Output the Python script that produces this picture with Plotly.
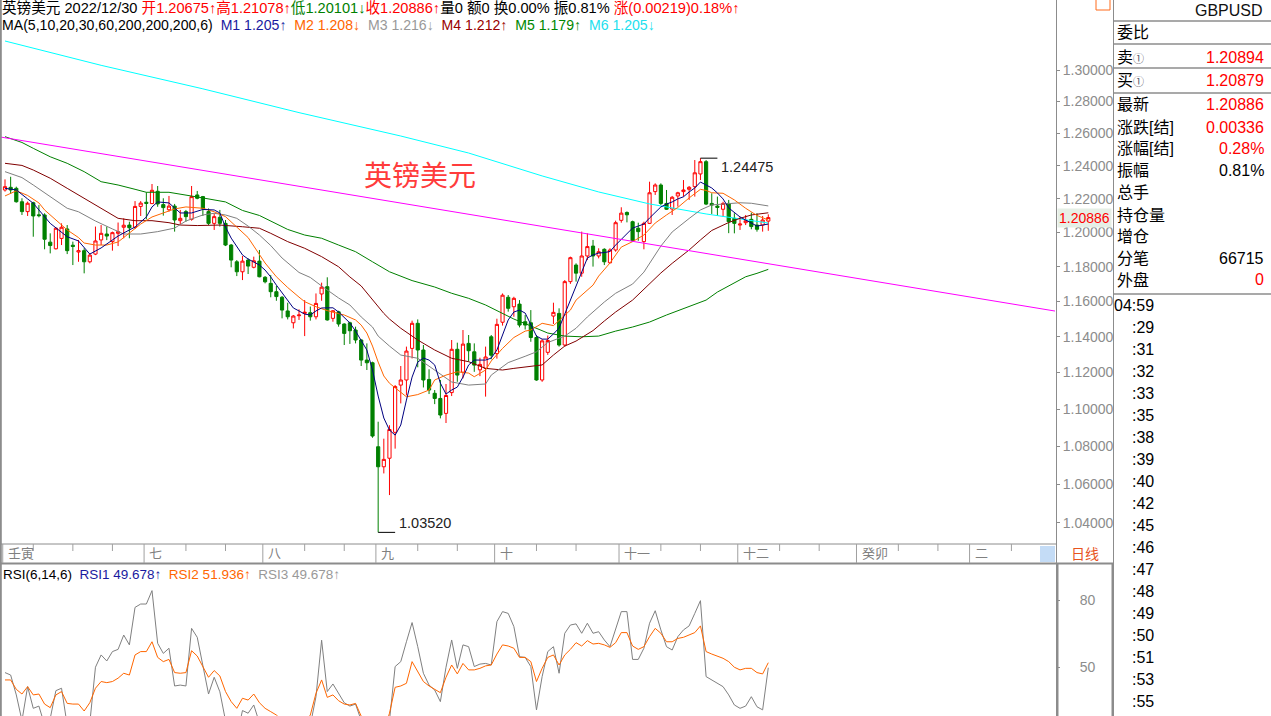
import math
import plotly.graph_objects as go

W, H = 1271, 716

# ---------------- data ----------------
candle_idx = list(range(136))
opens = [1.2254, 1.2270, 1.2264, 1.2183, 1.2124, 1.2177, 1.2105, 1.2104, 1.1943, 1.1904,
         1.1965, 1.2021, 1.1925, 1.1885, 1.1893, 1.1828, 1.1873, 1.1956, 1.1991, 1.1946,
         1.1995, 1.2031, 1.2044, 1.2031, 1.2155, 1.2180, 1.2172, 1.2246, 1.2166, 1.2135,
         1.2157, 1.2070, 1.2124, 1.2078, 1.2224, 1.2214, 1.2124, 1.2054, 1.2090, 1.2054,
         1.1926, 1.1828, 1.1770, 1.1838, 1.1796, 1.1832, 1.1738, 1.1703, 1.1655, 1.1623,
         1.1545, 1.1478, 1.1518, 1.1531, 1.1535, 1.1512, 1.1642, 1.1684, 1.1503, 1.1540,
         1.1471, 1.1478, 1.1437, 1.1381, 1.1269, 1.1254, 1.0798, 1.0692, 1.0737, 1.0875,
         1.1131, 1.1159, 1.1334, 1.1475, 1.1325, 1.1162, 1.1086, 1.1058, 1.0977, 1.1090,
         1.1329, 1.1202, 1.1362, 1.1315, 1.1215, 1.1223, 1.1399, 1.1305, 1.1481, 1.1623,
         1.1569, 1.1584, 1.1484, 1.1478, 1.1395, 1.1159, 1.1312, 1.1516, 1.1531, 1.1353,
         1.1713, 1.1809, 1.1762, 1.1862, 1.1920, 1.1862, 1.1901, 1.1822, 1.1897, 1.2072,
         1.2119, 1.2064, 1.2025, 1.1946, 1.2054, 1.2244, 1.2284, 1.2173, 1.2140, 1.2218,
         1.2244, 1.2258, 1.2274, 1.2351, 1.2426, 1.2173, 1.2157, 1.2138, 1.2173, 1.2084,
         1.2044, 1.2058, 1.2078, 1.2044, 1.2044, 1.20675]
highs = [1.2318, 1.2334, 1.2274, 1.2204, 1.2184, 1.2183, 1.2163, 1.2114, 1.1995, 1.2031,
         1.2054, 1.2044, 1.1946, 1.1956, 1.1907, 1.1877, 1.2035, 1.2044, 1.2035, 1.2005,
         1.2059, 1.2084, 1.2064, 1.2187, 1.2187, 1.2240, 1.2290, 1.2278, 1.2204, 1.2218,
         1.2170, 1.2134, 1.2134, 1.2278, 1.2248, 1.2218, 1.2143, 1.2114, 1.2134, 1.2074,
         1.1932, 1.1838, 1.1862, 1.1848, 1.1858, 1.1897, 1.1745, 1.1751, 1.1688, 1.1630,
         1.1592, 1.1522, 1.1554, 1.1607, 1.1570, 1.1645, 1.1707, 1.1738, 1.1550, 1.1546,
         1.1475, 1.1484, 1.1456, 1.1385, 1.1362, 1.1260, 1.0932, 1.0841, 1.0913, 1.1131,
         1.1236, 1.1344, 1.1490, 1.1497, 1.1353, 1.1218, 1.1104, 1.1159, 1.1137, 1.1381,
         1.1366, 1.1437, 1.1409, 1.1362, 1.1282, 1.1344, 1.1409, 1.1501, 1.1645, 1.1636,
         1.1626, 1.1607, 1.1522, 1.1550, 1.1409, 1.1385, 1.1406, 1.1592, 1.1560, 1.1722,
         1.1858, 1.1819, 1.2005, 1.1995, 1.1956, 1.1907, 1.1907, 1.1907, 1.2070, 1.2150,
         1.2125, 1.2070, 1.2058, 1.2064, 1.2304, 1.2294, 1.2294, 1.2254, 1.2218, 1.2243,
         1.2314, 1.2278, 1.2436, 1.24475, 1.2436, 1.2234, 1.2214, 1.2183, 1.2194, 1.2114,
         1.2094, 1.2104, 1.2118, 1.2114, 1.2098, 1.21078]
lows = [1.2244, 1.2230, 1.2178, 1.2104, 1.2098, 1.1975, 1.2090, 1.1901, 1.1877, 1.1900,
        1.1926, 1.1873, 1.1809, 1.1828, 1.1761, 1.1819, 1.1867, 1.1926, 1.1955, 1.1893,
        1.1920, 1.1966, 1.1966, 1.2021, 1.2098, 1.2078, 1.2170, 1.2153, 1.2100, 1.2124,
        1.2005, 1.2044, 1.2064, 1.2070, 1.2198, 1.2098, 1.2044, 1.2015, 1.2035, 1.1920,
        1.1796, 1.1745, 1.1722, 1.1757, 1.1790, 1.1738, 1.1703, 1.1623, 1.1603, 1.1503,
        1.1497, 1.1446, 1.1494, 1.1403, 1.1490, 1.1497, 1.1603, 1.1490, 1.1484, 1.1456,
        1.1353, 1.1359, 1.1362, 1.1236, 1.1214, 1.0846, 1.0352, 1.0657, 1.0544, 1.0788,
        1.1031, 1.1075, 1.1278, 1.1229, 1.1118, 1.1082, 1.1027, 1.0950, 1.0925, 1.1071,
        1.1149, 1.1168, 1.1260, 1.1204, 1.1180, 1.1068, 1.1273, 1.1277, 1.1462, 1.1541,
        1.1512, 1.1452, 1.1440, 1.1371, 1.1155, 1.1149, 1.1298, 1.1471, 1.1344, 1.1344,
        1.1700, 1.1713, 1.1741, 1.1838, 1.1800, 1.1848, 1.1809, 1.1819, 1.1887, 1.2058,
        1.2060, 1.1946, 1.1951, 1.1901, 1.2050, 1.2224, 1.2163, 1.2134, 1.2104, 1.2154,
        1.2214, 1.2194, 1.2214, 1.2314, 1.2163, 1.2110, 1.2098, 1.2094, 1.1996, 1.1995,
        1.2015, 1.2044, 1.2019, 1.2005, 1.2005, 1.20101]
closes = [1.2274, 1.2254, 1.2183, 1.2124, 1.2174, 1.2098, 1.2100, 1.1960, 1.1923, 1.2025,
          1.2031, 1.1893, 1.1918, 1.1893, 1.1828, 1.1867, 1.1950, 1.1995, 1.1979, 1.1999,
          1.2005, 1.2043, 1.2028, 1.2155, 1.2175, 1.2173, 1.2252, 1.2170, 1.2148, 1.2157,
          1.2074, 1.2084, 1.2094, 1.2214, 1.2204, 1.2143, 1.2054, 1.2094, 1.2054, 1.1926,
          1.1838, 1.1770, 1.1832, 1.1803, 1.1834, 1.1741, 1.1712, 1.1655, 1.1627, 1.1550,
          1.1512, 1.1516, 1.1522, 1.1538, 1.1512, 1.1588, 1.1681, 1.1494, 1.1546, 1.1471,
          1.1418, 1.1433, 1.1381, 1.1269, 1.1254, 1.0855, 1.0692, 1.0731, 1.0890, 1.1123,
          1.1159, 1.1319, 1.1475, 1.1325, 1.1159, 1.1104, 1.1058, 1.0968, 1.1074, 1.1329,
          1.1186, 1.1358, 1.1321, 1.1241, 1.1245, 1.1286, 1.1296, 1.1469, 1.1635, 1.1560,
          1.1617, 1.1465, 1.1465, 1.1395, 1.1159, 1.1376, 1.1378, 1.1537, 1.1353, 1.1713,
          1.1852, 1.1762, 1.1862, 1.1917, 1.1862, 1.1887, 1.1828, 1.1897, 1.2058, 1.2115,
          1.2105, 1.1951, 1.2005, 1.2054, 1.2237, 1.2284, 1.2173, 1.2138, 1.2210, 1.2237,
          1.2254, 1.2270, 1.2358, 1.2426, 1.2169, 1.2163, 1.2149, 1.2173, 1.2064, 1.2054,
          1.2050, 1.2070, 1.2035, 1.2019, 1.2074, 1.20886]

ma5_idx = [0, 2, 4, 5, 8, 11, 13, 15, 17, 20, 22, 23, 25, 26, 27, 29, 30, 31, 33, 35, 37, 38, 39, 40,
           42, 43, 44, 45, 46, 47, 48, 49, 50, 51, 52, 53, 54, 55, 56, 58, 59, 60, 61, 62, 63, 64,
           65, 66, 67, 68, 69, 70, 71, 72, 73, 74, 75, 76, 77, 78, 79, 80, 81, 82, 83, 84, 85, 86,
           87, 88, 89, 90, 91, 92, 93, 94, 95, 96, 97, 98, 99, 100, 101, 102, 103, 104, 105, 106,
           107, 108, 109, 110, 111, 112, 113, 114, 115, 116, 117, 118, 119, 120, 121, 122, 123,
           124, 125, 126, 127, 128, 129, 130, 131, 132, 133, 134, 135]
ma5 = [1.2264, 1.2254, 1.2200, 1.2174, 1.2054, 1.1975, 1.1950, 1.1873, 1.1909, 1.1979, 1.2015,
       1.2032, 1.2092, 1.2152, 1.2182, 1.2176, 1.2146, 1.2116, 1.2116, 1.2137, 1.2134, 1.2116,
       1.2032, 1.1967, 1.1868, 1.1844, 1.1827, 1.1809, 1.1780, 1.1740, 1.1693, 1.1647, 1.1602,
       1.1562, 1.1545, 1.1527, 1.1522, 1.1545, 1.1562, 1.1563, 1.1539, 1.1505, 1.1477, 1.1431,
       1.1381, 1.1325, 1.1214, 1.1071, 1.0952, 1.0887, 1.0860, 1.0914, 1.1049, 1.1175, 1.1258,
       1.1280, 1.1269, 1.1242, 1.1142, 1.1082, 1.1104, 1.1120, 1.1175, 1.1242, 1.1269, 1.1269,
       1.1269, 1.1280, 1.1325, 1.1409, 1.1494, 1.1539, 1.1550, 1.1533, 1.1471, 1.1403, 1.1386,
       1.1386, 1.1415, 1.1448, 1.1527, 1.1607, 1.1682, 1.1763, 1.1850, 1.1868, 1.1879, 1.1882,
       1.1888, 1.1926, 1.1961, 1.1997, 1.2026, 1.2038, 1.2050, 1.2086, 1.2122, 1.2152, 1.2169,
       1.2182, 1.2200, 1.2213, 1.2242, 1.2266, 1.2302, 1.2284, 1.2266, 1.2236, 1.2200, 1.2146,
       1.2116, 1.2092, 1.2074, 1.2056, 1.2038, 1.2044, 1.2050]

ma10_idx = [0, 2, 4, 6, 7, 9, 11, 13, 14, 16, 18, 20, 23, 24, 26, 28, 30, 32, 35, 37, 39, 41, 43,
            44, 46, 48, 50, 52, 53, 55, 57, 59, 60, 62, 63, 64, 65, 66, 67, 68, 69, 71, 73, 75, 76,
            78, 80, 82, 83, 85, 86, 88, 90, 92, 93, 95, 97, 99, 100, 101, 102, 103, 104, 105, 107,
            109, 111, 113, 115, 117, 119, 121, 123, 124, 125, 127, 129, 131, 133, 135]
ma10 = [1.2218, 1.2249, 1.2221, 1.2176, 1.2134, 1.2074, 1.2015, 1.1970, 1.1938, 1.1926, 1.1926,
        1.1944, 1.2021, 1.2050, 1.2092, 1.2117, 1.2140, 1.2152, 1.2144, 1.2123, 1.2094, 1.2032,
        1.1970, 1.1920, 1.1821, 1.1741, 1.1679, 1.1624, 1.1598, 1.1569, 1.1547, 1.1530, 1.1522,
        1.1494, 1.1465, 1.1420, 1.1347, 1.1258, 1.1181, 1.1141, 1.1115, 1.1067, 1.1079, 1.1104,
        1.1159, 1.1186, 1.1204, 1.1197, 1.1177, 1.1214, 1.1264, 1.1334, 1.1395, 1.1431, 1.1437,
        1.1475, 1.1462, 1.1522, 1.1550, 1.1607, 1.1636, 1.1665, 1.1693, 1.1745, 1.1821, 1.1914,
        1.1946, 1.1985, 1.2056, 1.2104, 1.2149, 1.2206, 1.2258, 1.2251, 1.2237, 1.2234, 1.2194,
        1.2144, 1.2101, 1.2074]

ma20_idx = [0, 3, 5, 8, 11, 13, 16, 19, 21, 24, 27, 30, 32, 35, 37, 39, 41, 43, 45, 47, 49, 52,
            54, 56, 59, 61, 63, 65, 66, 68, 70, 73, 76, 79, 82, 85, 86, 89, 92, 94, 96, 99, 101,
            103, 106, 108, 111, 113, 116, 118, 121, 123, 125, 128, 130, 132, 135]
ma20 = [1.2365, 1.2329, 1.2284, 1.2213, 1.2144, 1.2123, 1.2068, 1.2021, 1.1991, 1.1991, 1.2005,
        1.2026, 1.2068, 1.2104, 1.2114, 1.2104, 1.2084, 1.2038, 1.1985, 1.1923, 1.1850, 1.1766,
        1.1737, 1.1688, 1.1619, 1.1579, 1.1511, 1.1454, 1.1403, 1.1347, 1.1297, 1.1279, 1.1211,
        1.1148, 1.1131, 1.1137, 1.1186, 1.1255, 1.1290, 1.1315, 1.1367, 1.1403, 1.1447, 1.1511,
        1.1596, 1.1646, 1.1699, 1.1768, 1.1920, 1.2003, 1.2083, 1.2134, 1.2164, 1.2174, 1.2177,
        1.2174, 1.2158]

ma30_idx = [0, 3, 5, 8, 11, 14, 17, 20, 23, 26, 29, 31, 34, 38, 42, 45, 47, 50, 53, 56, 59, 61,
            63, 64, 66, 67, 68, 70, 73, 76, 79, 82, 85, 88, 90, 93, 95, 97, 99, 101, 104, 106, 108,
            111, 113, 116, 118, 121, 123, 125, 128, 130, 132, 135]
ma30 = [1.2416, 1.2403, 1.2375, 1.2325, 1.2264, 1.2204, 1.2144, 1.2084, 1.2070, 1.2070, 1.2058,
        1.2044, 1.2041, 1.2044, 1.2034, 1.2025, 1.1995, 1.1946, 1.1907, 1.1858, 1.1799, 1.1740,
        1.1688, 1.1648, 1.1573, 1.1531, 1.1499, 1.1447, 1.1381, 1.1325, 1.1279, 1.1260, 1.1223,
        1.1214, 1.1223, 1.1232, 1.1242, 1.1297, 1.1347, 1.1375, 1.1434, 1.1488, 1.1539, 1.1607,
        1.1670, 1.1763, 1.1819, 1.1897, 1.1956, 1.2012, 1.2059, 1.2084, 1.2104, 1.2117]

ma60_idx = [0, 3, 5, 8, 11, 14, 17, 20, 23, 25, 29, 32, 35, 39, 42, 45, 48, 50, 53, 56, 59, 62,
            65, 68, 72, 76, 79, 82, 85, 88, 90, 93, 96, 99, 102, 105, 108, 111, 114, 117, 121, 124,
            126, 129, 131, 133, 135]
ma60 = [1.2580, 1.2544, 1.2508, 1.2456, 1.2416, 1.2365, 1.2304, 1.2284, 1.2258, 1.2240, 1.2240,
        1.2221, 1.2206, 1.2182, 1.2131, 1.2101, 1.2050, 1.2018, 1.1985, 1.1966, 1.1926, 1.1887,
        1.1828, 1.1770, 1.1719, 1.1682, 1.1646, 1.1617, 1.1579, 1.1530, 1.1499, 1.1460, 1.1420,
        1.1403, 1.1399, 1.1403, 1.1431, 1.1454, 1.1482, 1.1522, 1.1573, 1.1607, 1.1653, 1.1705,
        1.1741, 1.1761, 1.1784]

ma200_idx = [0, 17, 35, 52, 70, 82, 95, 105, 114, 124, 135]
ma200 = [1.3187, 1.3030, 1.2880, 1.2730, 1.2584, 1.2479, 1.2339, 1.2242, 1.2170, 1.2110, 1.2056]

trend_idx = [-1, 186]
trend_val = [1.2579, 1.1543]

rsi6 = [47.5, 46.4, 37.5, 26, 41.2, 31.5, 32.5, 24, 27, 39.4,
        40.5, 24, 20, 22, 18, 25, 49.9, 55.4, 52.7, 56.9,
        57.9, 64.3, 59.9, 76.7, 78.2, 78.2, 84.2, 60.6, 56.1, 58.4,
        41.5, 41.9, 41.5, 67.3, 63.3, 51.3, 37.9, 45.4, 38.9, 26,
        20, 19, 30.5, 29.3, 33.0, 25, 18, 20, 17, 15,
        14, 17, 18, 19, 24, 36.7, 62.0, 39.0, 42.4, 38.2,
        34.0, 32.5, 33.4, 26, 22, 18, 12, 15, 26, 50.2,
        52.4, 61.3, 69.9, 59.1, 47.2, 41.9, 39.7, 34.5, 49.9, 62.1,
        49.4, 59.9, 59.1, 50.2, 51.3, 51.6, 50.9, 70.3, 74.8, 74.0,
        68.1, 54.6, 54.3, 50.2, 30.8, 45.7, 56.9, 59.1, 47.2, 65.1,
        68.8, 69.3, 65.1, 69.6, 65.1, 65.8, 62.1, 59.1, 66.6, 74.8,
        74.8, 53.4, 53.4, 58.4, 69.6, 75.2, 66.6, 59.1, 57.6, 63.6,
        66.6, 68.4, 74.0, 79.7, 45.7, 44.2, 43.0, 41.2, 37.5, 33.0,
        31.5, 32.5, 36.7, 32.2, 30.8, 49.678]
rsi14 = [44.2, 44.2, 40.0, 37.9, 41.2, 37.5, 37.9, 33.4, 31.8, 37.5,
         39.0, 33.7, 33.4, 33.4, 30.3, 34.0, 40.5, 43.5, 43.0, 43.5,
         45.0, 47.2, 46.4, 55.4, 56.9, 56.9, 61.3, 54.3, 52.4, 53.4,
         47.5, 47.2, 47.5, 57.3, 54.9, 49.9, 45.4, 48.4, 46.0, 39.0,
         34.5, 31.5, 36.0, 35.2, 37.9, 34.0, 31.5, 30.0, 28.5, 26,
         25, 25, 25, 25, 28.5, 38.2, 44.2, 36.4, 37.5, 34.9,
         33.4, 33.0, 33.7, 28, 25, 24, 20, 21, 29.3, 40.9,
         41.5, 42.7, 52.4, 47.9, 43.5, 41.5, 40.0, 38.5, 45.4, 50.9,
         46.9, 51.6, 48.7, 48.7, 49.4, 50.5, 50.9, 55.8, 59.9, 59.4,
         58.4, 54.3, 54.3, 52.4, 43.5, 49.4, 54.3, 55.4, 50.9, 55.4,
         57.9, 60.9, 59.4, 61.8, 60.3, 60.6, 59.9, 58.8, 60.9, 65.4,
         65.4, 59.4, 57.9, 59.1, 63.6, 67.3, 65.1, 61.3, 61.3, 62.8,
         63.3, 64.2, 65.4, 68.4, 56.9, 55.8, 54.9, 53.9, 52.4, 49.9,
         48.7, 49.4, 49.4, 47.5, 46.9, 51.936]

price_ticks = [1.04, 1.06, 1.08, 1.10, 1.12, 1.14, 1.16, 1.18, 1.20, 1.22, 1.24, 1.26, 1.28, 1.30]
rsi_ticks = [50, 80]

lunar_labels = ["壬寅", "七", "八", "九", "十", "十一", "十二", "癸卯", "二"]
lunar_idx = [0, 25, 46, 66, 87, 109, 130, 151, 171]
minor_idx = [5, 12, 19, 32, 39, 53, 60, 73, 80, 94, 101, 116, 123, 137, 144, 158, 165, 178]

panel_labels = ["委比", "卖", "买", "最新", "涨跌[结]", "涨幅[结]", "振幅", "总手", "持仓量", "增仓", "分笔", "外盘"]
panel_values = ["", "1.20894", "1.20879", "1.20886", "0.00336", "0.28%", "0.81%", "", "", "", "66715", "0"]
panel_colors = ["#000", "#ff0000", "#ff0000", "#ff0000", "#ff0000", "#ff0000", "#000", "#000", "#000", "#000", "#000", "#ff0000"]
tick_times = ["04:59", ":29", ":31", ":32", ":33", ":35", ":38", ":39", ":40", ":42", ":45", ":46",
              ":47", ":48", ":49", ":50", ":51", ":53", ":55"]

# ---------------- layout helpers ----------------
FONT = "Liberation Sans, Noto Sans CJK SC, sans-serif"
RED, GREEN, NAVY, ORANGE, GRAY, MAROON, CYAN = "#ff0000", "#008000", "#000080", "#ff6600", "#808080", "#800000", "#00ffff"


def X(p):
    return p / W


def Y(p):
    return 1 - p / H


step = 5.654
x_range = [-5 / step, (1055 - 5) / step]

fig = go.Figure()

fig.add_trace(go.Candlestick(
    x=candle_idx, open=opens, high=highs, low=lows, close=closes,
    increasing=dict(line=dict(color=RED, width=1), fillcolor="#ffffff"),
    decreasing=dict(line=dict(color=GREEN, width=1), fillcolor=GREEN),
    whiskerwidth=0, hoverinfo="skip", xaxis="x", yaxis="y"))

for xs, ys, col in [(ma200_idx, ma200, CYAN), (ma60_idx, ma60, GREEN), (ma30_idx, ma30, MAROON),
                    (ma20_idx, ma20, GRAY), (ma10_idx, ma10, ORANGE), (ma5_idx, ma5, NAVY)]:
    fig.add_trace(go.Scatter(x=xs, y=ys, mode="lines", line=dict(color=col, width=1),
                             hoverinfo="skip", xaxis="x", yaxis="y"))

fig.add_trace(go.Scatter(x=trend_idx, y=trend_val, mode="lines", line=dict(color="#ff00ff", width=1),
                         hoverinfo="skip", xaxis="x", yaxis="y"))

# extreme markers
hi_i = highs.index(max(highs))
lo_i = lows.index(min(lows))
fig.add_trace(go.Scatter(x=[hi_i, hi_i + 3], y=[highs[hi_i]] * 2, mode="lines",
                         line=dict(color="#000", width=1), hoverinfo="skip", xaxis="x", yaxis="y"))
fig.add_trace(go.Scatter(x=[lo_i, lo_i + 3], y=[lows[lo_i]] * 2, mode="lines",
                         line=dict(color="#000", width=1), hoverinfo="skip", xaxis="x", yaxis="y"))

fig.add_trace(go.Scatter(x=candle_idx, y=rsi6, mode="lines", line=dict(color=GRAY, width=1),
                         hoverinfo="skip", xaxis="x2", yaxis="y2"))
fig.add_trace(go.Scatter(x=candle_idx, y=rsi14, mode="lines", line=dict(color=ORANGE, width=1),
                         hoverinfo="skip", xaxis="x2", yaxis="y2"))

shapes = []


def hline(y, x0, x1, w=1, col="#8c8c8c"):
    shapes.append(dict(type="line", xref="paper", yref="paper", x0=X(x0), x1=X(x1), y0=Y(y), y1=Y(y),
                       line=dict(color=col, width=w)))


def vline(x, y0, y1, w=1, col="#8c8c8c"):
    shapes.append(dict(type="line", xref="paper", yref="paper", x0=X(x), x1=X(x), y0=Y(y0), y1=Y(y1),
                       line=dict(color=col, width=w)))


vline(0.8, 0, 716, 2)
hline(544, 0, 1056)
hline(563.5, 0, 1113, 2)
vline(1056.5, 0, 716, 1)
vline(1057.5, 563, 716, 2)
vline(1112.5, 563, 716, 2)
vline(1113.5, 0, 716, 1)
for yy in [21, 44, 68, 93, 294]:
    hline(yy, 1113, 1271, 1.5)
shapes.append(dict(type="rect", xref="paper", yref="paper", x0=X(1096), x1=X(1110), y0=Y(10), y1=Y(-2),
                   line=dict(color="#ff6a1a", width=1)))
shapes.append(dict(type="rect", xref="paper", yref="paper", x0=X(1040), x1=X(1055), y0=Y(562), y1=Y(546),
                   line=dict(width=0), fillcolor="#c4dcf6"))
for t in lunar_idx:
    shapes.append(dict(type="line", xref="x", yref="paper", x0=t - 0.4, x1=t - 0.4, y0=Y(544), y1=Y(563),
                       line=dict(color="#a0a0a0", width=1)))
for t in minor_idx:
    shapes.append(dict(type="line", xref="x", yref="paper", x0=t, x1=t, y0=Y(544), y1=Y(551),
                       line=dict(color="#a0a0a0", width=1)))

ann = []


def text(x, y, s, size=14, color="#000", xanchor="left", **kw):
    ann.append(dict(xref="paper", yref="paper", x=X(x), y=Y(y), text=s, showarrow=False,
                    xanchor=xanchor, yanchor="middle", font=dict(family=FONT, size=size, color=color), **kw))


def span(s, c):
    return "<span style='color:%s'>%s</span>" % (c, s)


sp = "\u00a0"
line1 = ("英镑美元 2022/12/30 " + span("开%.5f↑高%.5f↑" % (opens[-1], highs[-1]), RED)
         + span("低%.5f↓" % lows[-1], GREEN) + span("收%.5f↑" % closes[-1], RED)
         + "量0 额0 换0.00% 振0.81% " + span("涨(0.00219)0.18%↑", RED))
line2 = ("MA(5,10,20,30,60,200,200,200,6)" + sp * 2 + span("M1 1.205↑", "#1a1aa0") + sp * 2
         + span("M2 1.208↓", ORANGE) + sp * 2 + span("M3 1.216↓", "#999999") + sp * 2
         + span("M4 1.212↑", "#990000") + sp * 2 + span("M5 1.179↑", "#008800") + sp * 2
         + span("M6 1.205↓", "#22e0ee"))
text(0, 8, line1, 14.6)
text(0, 25.5, line2, 14.1)
text(1, 574, "RSI(6,14,6)" + sp * 2 + span("RSI1 49.678↑", "#1a1aa0") + sp * 2 + span("RSI2 51.936↑", ORANGE)
     + sp * 2 + span("RSI3 49.678↑", "#999999"), 13.5)
text(420, 177, "英镑美元", 28, "#ff3c3c", xanchor="center")

ann.append(dict(xref="x", yref="y", x=hi_i + 3.3, y=math.log10(highs[hi_i]), text="%.5f" % highs[hi_i],
                showarrow=False, xanchor="left", yanchor="middle", yshift=-9,
                font=dict(family=FONT, size=14.5, color="#222")))
ann.append(dict(xref="x", yref="y", x=lo_i + 3.3, y=math.log10(lows[lo_i]), text="%.5f" % lows[lo_i],
                showarrow=False, xanchor="left", yanchor="middle", yshift=9,
                font=dict(family=FONT, size=14.5, color="#222")))
ann.append(dict(xref="paper", yref="y", x=X(1057), y=math.log10(closes[-1]), text="%.5f" % closes[-1],
                showarrow=False, xanchor="left", yanchor="middle", bgcolor="#e6efe6", borderpad=1,
                font=dict(family=FONT, size=14, color=RED)))

for lab, t in zip(lunar_labels, lunar_idx):
    ann.append(dict(xref="x", yref="paper", x=t, y=Y(553.5), text=lab, showarrow=False, xanchor="left",
                    yanchor="middle", xshift=1, font=dict(family=FONT, size=13, color="#808080")))
text(1085, 553.5, "日线", 14, "#e8541e", xanchor="center")

text(1265, 10, "GBPUSD", 16, "#111", xanchor="right")
row_y = [33, 57, 80, 105, 127, 148.5, 170.5, 192.5, 215, 236.5, 258.5, 280]
for lab, val, col, yy in zip(panel_labels, panel_values, panel_colors, row_y):
    if lab in ("卖", "买"):
        lab = lab + "<span style='font-size:11px;color:#556'>①</span>"
    text(1115, yy, lab, 16, "#000")
    if val:
        text(1266, yy, val, 16, col, xanchor="right")
for k, t in enumerate(tick_times):
    text(1156, 305 + 22.05 * k, t, 16, "#000", xanchor="right")

fig.update_layout(
    width=W, height=H, margin=dict(l=0, r=0, t=0, b=0),
    paper_bgcolor="white", plot_bgcolor="white", showlegend=False, boxgap=0.2,
    font=dict(family=FONT),
    xaxis=dict(domain=[0, X(1055)], range=x_range, visible=False, rangeslider=dict(visible=False),
               anchor="y", fixedrange=True),
    yaxis=dict(domain=[Y(543), 1], type="log",
               range=[math.log10(1.3 * math.exp(-473 / 2030)), math.log10(1.3 * math.exp(70 / 2030))],
               side="right", anchor="x", tickmode="array", tickvals=price_ticks,
               ticktext=["%.5f" % v for v in price_ticks], ticks="outside", ticklen=4, tickcolor="#8c8c8c",
               tickfont=dict(family=FONT, size=14, color="#8c8c8c"), showgrid=False, zeroline=False,
               showline=False),
    xaxis2=dict(domain=[0, X(1055)], range=x_range, visible=False, anchor="y2"),
    yaxis2=dict(domain=[0, (716 - 565) / 716], range=[28.06, 95.67], side="right", anchor="x2",
                tickmode="array", tickvals=rsi_ticks, ticktext=[str(v) for v in rsi_ticks],
                ticks="outside", ticklen=4, tickcolor="#8c8c8c", ticklabelstandoff=17,
                tickfont=dict(family=FONT, size=14, color="#8c8c8c"), showgrid=False, zeroline=False),
    shapes=shapes, annotations=ann,
)

fig.write_html("out.html", config={"displayModeBar": False},
               post_script="document.body.style.margin='0';document.body.style.overflow='hidden';")
